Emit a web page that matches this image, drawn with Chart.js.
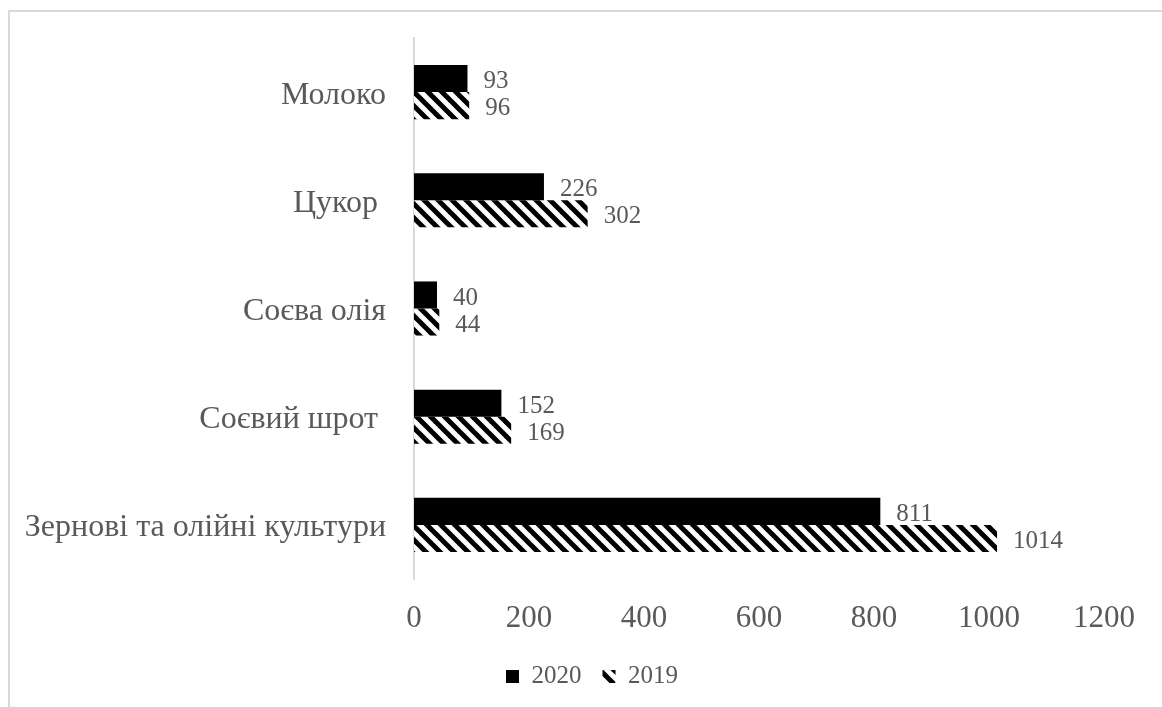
<!DOCTYPE html>
<html>
<head>
<meta charset="utf-8">
<script src="https://cdn.jsdelivr.net/npm/chart.js@4"></script>
<style>
  html, body { margin:0; padding:0; background:#fff; overflow:hidden; }
  #frame { position:absolute; left:8px; top:10px; width:1300px; height:900px; border:2px solid #d9d9d9; }
  #wrap { position:absolute; left:0; top:0; width:1162px; height:707px; }
</style>
</head>
<body>
<div id="frame"></div>
<div id="wrap"><canvas id="c" width="1162" height="707"></canvas></div>
<script>
const categories = ['Молоко', 'Цукор ', 'Соєва олія', 'Соєвий шрот ', 'Зернові та олійні культури'];
const values2020 = [93, 226, 40, 152, 811];
const values2019 = [96, 302, 44, 169, 1014];
const xTicks = [0, 200, 400, 600, 800, 1000, 1200];

const GRAY = '#595959';
const FONT = 'Liberation Serif, Times New Roman, serif';

// wide downward diagonal hatch for 2019
function hatch(){
  const size = 14;
  const p = document.createElement('canvas');
  p.width = size; p.height = size;
  const g = p.getContext('2d');
  g.fillStyle = '#fff'; g.fillRect(0,0,size,size);
  g.strokeStyle = '#000'; g.lineWidth = 5; g.lineCap = 'square';
  [-size, 0, size].forEach(x0=>{
    g.beginPath(); g.moveTo(x0, 0); g.lineTo(x0+size, size); g.stroke();
  });
  return g.createPattern(p, 'repeat');
}
const hatchFill = hatch();

// value labels right of each bar
const valueLabels = {
  id:'valueLabels',
  afterDatasetsDraw(chart){
    const ctx = chart.ctx;
    ctx.save();
    ctx.font = '25px ' + FONT;
    ctx.fillStyle = GRAY;
    ctx.textAlign = 'left';
    ctx.textBaseline = 'middle';
    chart.data.datasets.forEach((ds, di)=>{
      chart.getDatasetMeta(di).data.forEach((bar, i)=>{
        ctx.fillText(String(ds.data[i]), bar.x + 16, bar.y + 3);
      });
    });
    ctx.restore();
  }
};

// legend sits a bit right of the plot centre
const legendShift = {
  id:'legendShift',
  afterLayout(chart){ chart.legend.left = 80; }
};

new Chart(document.getElementById('c'), {
  type:'bar',
  data:{
    labels: categories,
    datasets:[
      {label:'2020', data: values2020, backgroundColor:'#000', borderWidth:0},
      {label:'2019', data: values2019, backgroundColor: hatchFill, borderWidth:0}
    ]
  },
  options:{
    indexAxis:'y',
    responsive:false,
    animation:false,
    datasets:{bar:{categoryPercentage:0.5, barPercentage:1}},
    layout:{padding:{left:0, right:58, top:38, bottom:8}},
    plugins:{
      tooltip:{enabled:false},
      legend:{
        position:'bottom',
        labels:{
          color: GRAY,
          font:{family: FONT, size:25},
          boxWidth:13, boxHeight:13,
          padding:21
        }
      }
    },
    scales:{
      x:{
        min:0, max:1200,
        afterBuildTicks(scale){ scale.ticks = xTicks.map(v=>({value:v})); },
        grid:{display:false},
        border:{display:false},
        ticks:{color: GRAY, font:{family: FONT, size:31}, padding:13, callback: v => String(v)},
        afterFit(scale){ scale.height = 64; }
      },
      y:{
        grid:{display:false, drawTicks:false},
        border:{display:true, color:'#d9d9d9', width:2},
        ticks:{color: GRAY, font:{family: FONT, size:32}, padding:28, labelOffset:3},
        afterFit(scale){ scale.width = 414; scale.paddingTop = 0; scale.paddingBottom = 0; }
      }
    }
  },
  plugins:[valueLabels, legendShift]
});
</script>
</body>
</html>
